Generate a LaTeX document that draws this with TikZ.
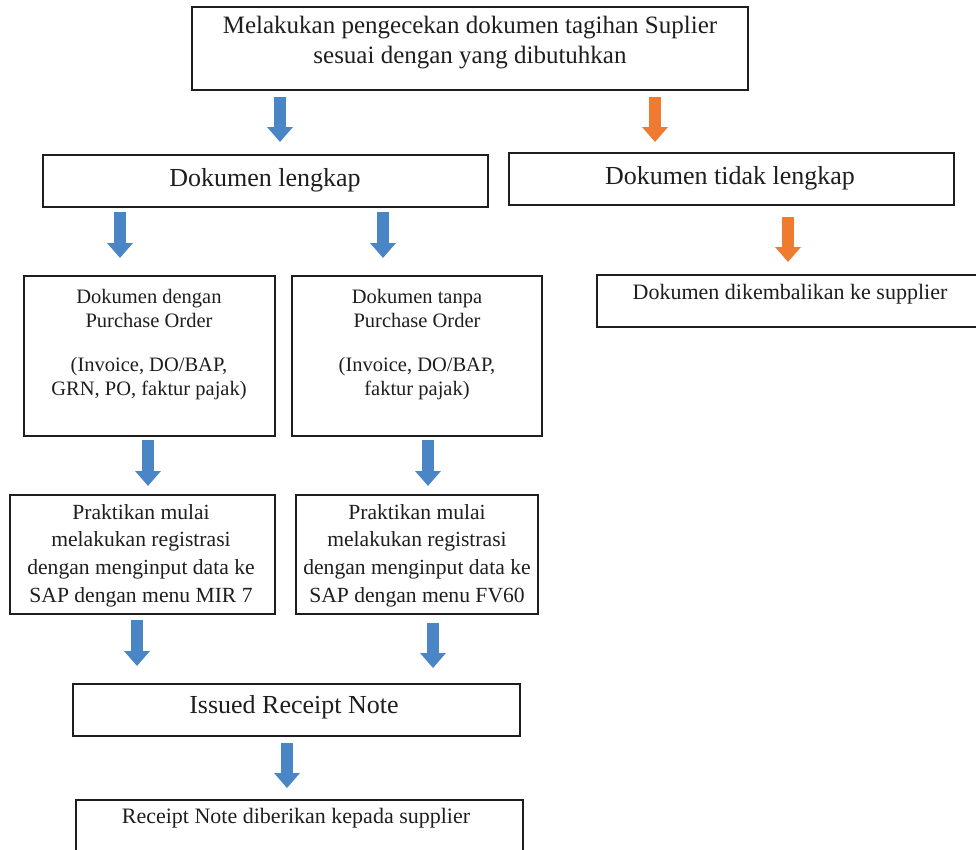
\documentclass[tikz,border=0pt]{standalone}
\usepackage{fontspec}
\setmainfont{Liberation Serif}
\usetikzlibrary{arrows.meta}
\definecolor{ablue}{HTML}{4A86C6}
\definecolor{aorange}{HTML}{EE7B30}
\definecolor{ink}{HTML}{1E1E1E}
\begin{document}
\begin{tikzpicture}[x=1pt,y=-1pt,
  box/.style={draw=ink, line width=1.6pt, rectangle, inner sep=0pt, outer sep=0pt, anchor=north west},
  txt/.style={text=ink, align=center, inner sep=0pt, anchor=north},
  bigtxt/.style={txt, font=\fontsize{26}{30}\selectfont},
  smalltxt/.style={txt, font=\fontsize{20.5}{24}\selectfont},
  midtxt/.style={txt, font=\fontsize{21.6}{27.7}\selectfont},
  barrow/.style={draw=ablue, line width=12pt, -{Triangle[width=25pt,length=15pt]}},
  oarrow/.style={barrow, draw=aorange}]
\useasboundingbox (0,0) rectangle (976,849);
\clip (0,0) rectangle (976,849);
% boxes
\node[box, minimum width=556pt, minimum height=83pt] (top) at (192,7) {};
\node[box, minimum width=445pt, minimum height=52pt] (lk) at (43,155) {};
\node[box, minimum width=445pt, minimum height=52pt] (tl) at (509,153) {};
\node[box, minimum width=251pt, minimum height=160pt] (ba) at (24,276) {};
\node[box, minimum width=250pt, minimum height=160pt] (bb) at (292,276) {};
\node[box, minimum width=388pt, minimum height=52pt] (dk) at (597,275) {};
\node[box, minimum width=265pt, minimum height=119pt] (bc) at (10,495) {};
\node[box, minimum width=242pt, minimum height=119pt] (bd) at (296,495) {};
\node[box, minimum width=447pt, minimum height=52pt] (is) at (73,684) {};
\node[box, minimum width=447pt, minimum height=80pt] (rc) at (76,800) {};
% texts
\node[txt, font=\fontsize{25}{30}\selectfont] (toptxt) at (470,16)
  {Melakukan pengecekan dokumen tagihan Suplier\\sesuai dengan yang dibutuhkan};
\node[bigtxt] (lktxt) at (265,168) {Dokumen lengkap};
\node[bigtxt] (tltxt) at (730,166) {Dokumen tidak lengkap};
\node[smalltxt] (batxt) at (149,289)
  {Dokumen dengan\\Purchase Order\\[20pt](Invoice, DO/BAP,\\GRN, PO, faktur pajak)};
\node[smalltxt] (bbtxt) at (417,289)
  {Dokumen tanpa\\Purchase Order\\[20pt](Invoice, DO/BAP,\\faktur pajak)};
\node[txt, font=\fontsize{22}{26}\selectfont] (dktxt) at (790,284) {Dokumen dikembalikan ke supplier};
\node[midtxt] (bctxt) at (141,504)
  {Praktikan mulai\\melakukan registrasi\\dengan menginput data ke\\SAP dengan menu MIR 7};
\node[midtxt] (bdtxt) at (417,504)
  {Praktikan mulai\\melakukan registrasi\\dengan menginput data ke\\SAP dengan menu FV60};
\node[bigtxt] (istxt) at (294,695) {Issued Receipt Note};
\node[txt, font=\fontsize{22}{26}\selectfont] (rctxt) at (296,808) {Receipt Note diberikan kepada supplier};
% arrow x positions
\coordinate (x1) at (280,0);
\coordinate (x2) at (655,0);
\coordinate (x3) at (120,0);
\coordinate (x4) at (383,0);
\coordinate (x5) at (788,0);
\coordinate (x6) at (148,0);
\coordinate (x7) at (428,0);
\coordinate (x8) at (137,0);
\coordinate (x9) at (433,0);
\coordinate (x10) at (287,0);
% arrows
\draw[barrow, shorten <=7pt, shorten >=13pt] (top.south -| x1) -- (lk.north -| x1);
\draw[oarrow, shorten <=7pt, shorten >=11pt] (top.south -| x2) -- (tl.north -| x2);
\draw[barrow, shorten <=5pt, shorten >=18pt] (lk.south -| x3) -- (ba.north -| x3);
\draw[barrow, shorten <=5pt, shorten >=18pt] (lk.south -| x4) -- (bb.north -| x4);
\draw[oarrow, shorten <=12pt, shorten >=13pt] (tl.south -| x5) -- (dk.north -| x5);
\draw[barrow, shorten <=4pt, shorten >=9pt] (ba.south -| x6) -- (bc.north -| x6);
\draw[barrow, shorten <=4pt, shorten >=9pt] (bb.south -| x7) -- (bd.north -| x7);
\draw[barrow, shorten <=6pt, shorten >=18pt] (bc.south -| x8) -- (is.north -| x8);
\draw[barrow, shorten <=9pt, shorten >=16pt] (bd.south -| x9) -- (is.north -| x9);
\draw[barrow, shorten <=7pt, shorten >=12pt] (is.south -| x10) -- (rc.north -| x10);
\end{tikzpicture}
\end{document}
